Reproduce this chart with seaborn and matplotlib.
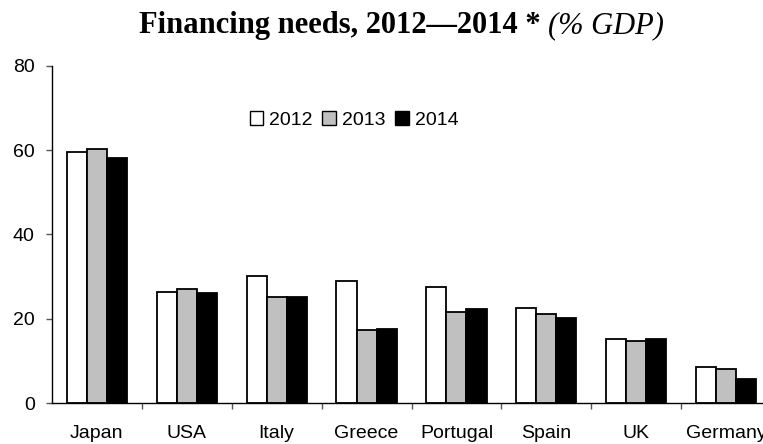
import matplotlib
matplotlib.use("Agg")
import matplotlib.pyplot as plt
import seaborn as sns
import pandas as pd
from matplotlib.patches import Patch
from matplotlib.ticker import FixedLocator, NullFormatter

countries = ["Japan", "USA", "Italy", "Greece", "Portugal", "Spain", "UK", "Germany"]
years = ["2012", "2013", "2014"]
needs_2012 = [59.5, 26.4, 30.1, 29.0, 27.6, 22.6, 15.2, 8.5]
needs_2013 = [60.2, 27.1, 25.2, 17.3, 21.5, 21.2, 14.8, 8.1]
needs_2014 = [58.1, 26.1, 25.2, 17.5, 22.3, 20.1, 15.3, 5.6]

df = pd.DataFrame({
    "country": countries * 3,
    "year": [y for y in years for _ in countries],
    "value": needs_2012 + needs_2013 + needs_2014,
})

sns.set_theme(style="white")
plt.rcParams["font.family"] = ["Liberation Sans", "DejaVu Sans"]
plt.rcParams["text.color"] = "black"

fig = plt.figure(figsize=(7.63, 4.44), dpi=100)
ax = fig.add_axes([52 / 763, 1 - 403 / 444, (771 - 52) / 763, (403 - 66) / 444])

palette = {"2012": "white", "2013": "#c0c0c0", "2014": "black"}
sns.barplot(data=df, x="country", y="value", hue="year", palette=palette,
            width=0.67, gap=0, edgecolor="black", linewidth=1.3,
            saturation=1, legend=False, ax=ax)

ax.set_xlim(-0.5, len(countries) - 0.5)
ax.set_ylim(0, 80)
ax.set_yticks([0, 20, 40, 60, 80])
ax.set_xlabel("")
ax.set_ylabel("")

# ticks between categories, labels centred on each group
ax.xaxis.set_major_locator(FixedLocator([i + 0.5 for i in range(len(countries))]))
ax.xaxis.set_major_formatter(NullFormatter())
ax.xaxis.set_minor_locator(FixedLocator(list(range(len(countries)))))
ax.set_xticklabels(countries, minor=True)
ax.tick_params(axis="x", which="major", direction="out", length=4.5, width=1, color="#555555", bottom=True)
ax.tick_params(axis="x", which="minor", length=0, pad=16, labelsize=14, labelcolor="black")
ax.tick_params(axis="y", direction="out", length=4.5, width=1, color="#555555", left=True,
               labelsize=14, labelcolor="black", pad=8)

for side in ["top", "right"]:
    ax.spines[side].set_visible(False)
for side in ["left", "bottom"]:
    ax.spines[side].set_color("black")
    ax.spines[side].set_linewidth(1)

handles = [Patch(facecolor=palette[y], edgecolor="black", linewidth=1) for y in years]
ax.legend(handles, years, ncol=3, frameon=False, loc="center",
          bbox_to_anchor=(354 / 763, 1 - 120 / 444), bbox_transform=fig.transFigure,
          fontsize=14, handlelength=0.7, handleheight=0.7, handletextpad=0.3,
          columnspacing=0.5, borderpad=0)

title_x = 548 / 763
title_y = 1 - 33 / 444
fig.text(title_x, title_y, "Financing needs, 2012\u20142014 * ",
         ha="right", va="baseline", fontsize=22, fontweight="bold", color="black",
         family=["Liberation Serif", "DejaVu Serif"])
fig.text(title_x, title_y, "(% GDP)",
         ha="left", va="baseline", fontsize=22, fontstyle="italic", color="black",
         family=["Liberation Serif", "DejaVu Serif"])

fig.savefig("out.png", dpi=100)
